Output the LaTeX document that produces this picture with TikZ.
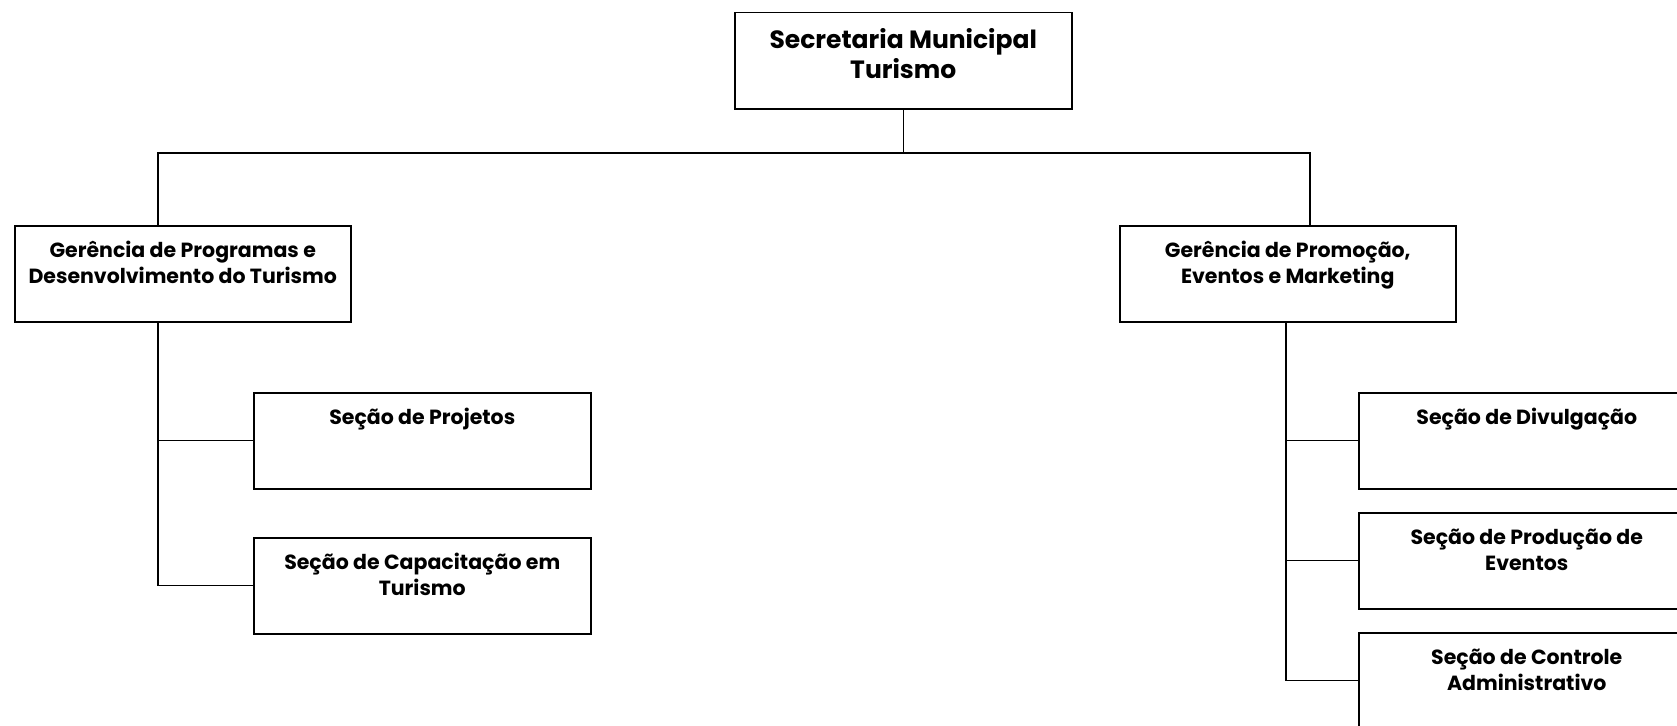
\documentclass[tikz,border=0pt]{standalone}
\usepackage{fontspec}
\setmainfont{Poppins}
\newcommand{\bx}[4]{\parbox[c][#1pt][t]{#2pt}{\centering\rule{0pt}{#3pt}#4}}
\begin{document}
\begin{tikzpicture}[x=1pt,y=-1pt,
  box/.style={draw, line width=1.5pt, inner sep=0pt, anchor=north west, font=\bfseries\fontsize{20.5}{26}\selectfont},
  topbox/.style={box, font=\bfseries\fontsize{25}{30}\selectfont},
  conn/.style={line width=1.3pt}]
\useasboundingbox (0,0) rectangle (1677,725);
\node[topbox] (top) at (734,12) {\bx{96}{337}{36}{Secretaria Municipal\\Turismo}};
\node[box] (gl) at (14,225) {\bx{96}{336}{32}{Gerência de Programas e\\Desenvolvimento do Turismo}};
\node[box] (gr) at (1119,225) {\bx{96}{336}{32}{Gerência de Promoção,\\Eventos e Marketing}};
\node[box] (proj) at (253,392) {\bx{96}{337}{32}{Seção de Projetos}};
\node[box] (cap) at (253,537) {\bx{96}{337}{32}{Seção de Capacitação em\\Turismo}};
\node[box] (div) at (1358,392) {\bx{96}{336}{32}{Seção de Divulgação}};
\node[box] (prod) at (1358,512) {\bx{96}{336}{32}{Seção de Produção de\\Eventos}};
\node[box] (ctrl) at (1358,632) {\bx{96}{336}{32}{Seção de Controle\\Administrativo}};
\coordinate (busL) at (158,153);
\coordinate (busR) at (1310,153);
\coordinate (vr) at (1286,321);
\draw[conn] (top.south) -- (top.south |- busL);
\draw[conn] (gl.north -| busL) -- (busL) -- (busR) -- (gr.north -| busR);
\draw[conn] (gl.south -| busL) |- (cap.west);
\draw[conn] (proj.west) -- (proj.west -| busL);
\draw[conn] (gr.south -| vr) |- (ctrl.west);
\draw[conn] (div.west) -- (div.west -| vr);
\draw[conn] (prod.west) -- (prod.west -| vr);
\end{tikzpicture}
\end{document}
